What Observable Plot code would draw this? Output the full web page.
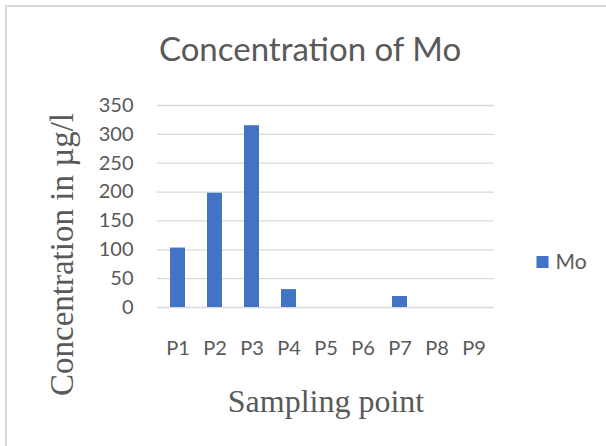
<!DOCTYPE html>
<html>
<head>
<meta charset="utf-8">
<script src="https://cdn.jsdelivr.net/npm/d3@7"></script>
<script src="https://cdn.jsdelivr.net/npm/@observablehq/plot@0.6"></script>
<style>
  html, body { margin: 0; padding: 0; background: #fff; }
  #chart { position: relative; width: 606px; height: 446px; overflow: hidden; }
  #frame { position: absolute; left: 5px; top: 5px; width: 700px; height: 600px; border: 2px solid #d9d9d9; box-sizing: border-box; pointer-events: none; z-index: 2; }
</style>
</head>
<body>
<div id="chart"><div id="frame"></div></div>
<script>
const categories = ["P1", "P2", "P3", "P4", "P5", "P6", "P7", "P8", "P9"];
const moValues = [103, 198, 315, 31, 0, 0, 19, 0, 0];
const yTicks = [0, 50, 100, 150, 200, 250, 300, 350];
const seriesName = "Mo";
const titleText = "Concentration of Mo";
const xTitle = "Sampling point";
const yTitle = "Concentration in µg/l";

const data = categories.map((c, i) => ({category: c, value: moValues[i]}));
const barColor = "#4472c4";
const textColor = "#595959";
const sans = "Lato, 'Open Sans', sans-serif";
const serif = "'Liberation Serif', 'DejaVu Serif', serif";

const chart = Plot.plot({
  width: 606,
  height: 446,
  marginLeft: 157,
  marginRight: 112,
  marginTop: 105,
  marginBottom: 139,
  style: {fontFamily: sans, fontSize: "20px", color: textColor, background: "transparent"},
  x: {domain: categories, paddingInner: 0.6, paddingOuter: 0.3, align: 0.5, label: null, tickSize: 0, tickPadding: 33},
  y: {domain: [0, 350], ticks: yTicks, label: null, tickSize: 0, tickPadding: 24},
  marks: [
    Plot.gridY(yTicks, {stroke: "#d9d9d9", strokeOpacity: 1, strokeWidth: 1.3}),
    Plot.barY(data, {x: "category", y: "value", fill: barColor}),
    Plot.text([titleText], {frameAnchor: "top", textAnchor: "middle", dx: -16, dy: -55, lineAnchor: "middle", fontSize: 33, fill: textColor, fontFamily: sans}),
    Plot.text([xTitle], {frameAnchor: "bottom", textAnchor: "middle", dx: 0, dy: 94, lineAnchor: "middle", fontSize: 32, fill: textColor, fontFamily: serif}),
    Plot.text([yTitle], {frameAnchor: "left", textAnchor: "middle", dx: -95, dy: 48, rotate: -90, lineAnchor: "middle", fontSize: 33, fill: textColor, fontFamily: serif}),
    Plot.dot([seriesName], {frameAnchor: "right", dx: 48, dy: 55.5, symbol: "square", r: 6.8, fill: barColor, stroke: null}),
    Plot.text([seriesName], {frameAnchor: "right", textAnchor: "start", dx: 61, dy: 55.5, lineAnchor: "middle", fontSize: 21, fill: textColor, fontFamily: sans})
  ]
});
chart.style.position = "absolute";
chart.style.left = "0";
chart.style.top = "0";
chart.style.zIndex = "1";
document.getElementById("chart").appendChild(chart);
</script>
</body>
</html>
